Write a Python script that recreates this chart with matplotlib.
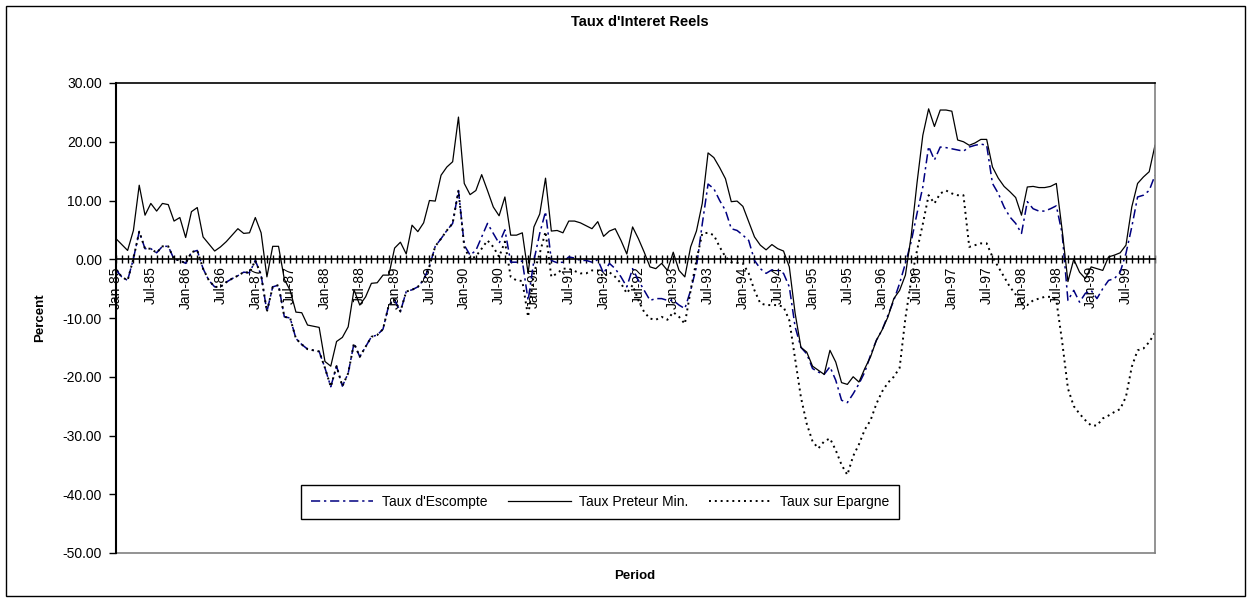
import matplotlib
matplotlib.use('Agg')
import matplotlib.pyplot as plt
import matplotlib.patches as mpatches
import pandas as pd

plt.rcParams['font.family'] = ['Liberation Sans', 'DejaVu Sans']

# monthly categories Jan-85 .. Dec-99
months = pd.date_range('1985-01-01', periods=180, freq='MS')
month_labels = [d.strftime('%b-%y') for d in months]

escompte = [
    -1.8, -3.0, -3.6, 0.1, 4.7, 1.8, 1.8, 1.1, 2.2, 2.2,
    0.0, -0.2, -0.7, 1.2, 1.5, -1.6, -3.6, -4.7, -4.7, -3.9,
    -3.3, -2.8, -2.2, -2.3, -0.2, -2.7, -8.9, -4.7, -4.4, -9.8,
    -10.0, -13.5, -14.5, -15.3, -15.5, -15.7, -18.5, -21.7, -18.2, -21.6,
    -19.4, -14.3, -16.6, -14.9, -13.2, -12.9, -11.9, -7.8, -6.9, -8.9,
    -5.5, -5.2, -4.7, -3.5, -1.2, 2.2, 3.5, 4.9, 6.1, 11.7,
    2.4, 0.7, 1.5, 3.8, 6.1, 4.4, 2.7, 5.0, -0.5, -0.5,
    -0.3, -7.0, -0.2, 4.4, 8.1, -0.2, -0.6, -0.5, 0.4, 0.2,
    -0.2, -0.2, -0.5, -0.1, -2.4, -0.7, -1.6, -3.0, -4.7, -1.6,
    -3.6, -5.3, -7.0, -6.7, -6.7, -7.0, -7.0, -7.8, -8.4, -5.3,
    -1.3, 6.0, 12.8, 12.0, 10.0, 8.3, 5.2, 4.9, 4.1, 3.2,
    -0.2, -1.6, -2.4, -1.8, -1.9, -2.4, -4.7, -11.5, -15.0, -16.1,
    -18.6, -19.2, -19.6, -18.3, -20.6, -24.0, -24.4, -22.9, -21.2, -19.2,
    -16.3, -13.8, -12.0, -9.5, -7.0, -4.1, -0.7, 3.0, 7.8, 12.3,
    19.2, 16.9, 19.1, 19.0, 18.8, 18.6, 18.4, 19.1, 19.4, 19.6,
    19.4, 12.9, 11.2, 8.9, 7.2, 6.1, 4.4, 9.8, 8.6, 8.2,
    8.2, 8.6, 9.1, 4.4, -7.0, -5.3, -7.3, -5.8, -5.3, -6.7,
    -5.0, -3.6, -3.3, -2.2, 1.0, 5.5, 10.6, 10.9, 11.7, 14.3,
]

preteur = [
    3.5, 2.5, 1.5, 4.9, 12.6, 7.5, 9.5, 8.2, 9.5, 9.3,
    6.5, 7.1, 3.7, 8.1, 8.8, 3.8, 2.6, 1.4, 2.1, 3.0,
    4.1, 5.2, 4.4, 4.5, 7.1, 4.5, -3.0, 2.2, 2.2, -3.4,
    -5.3, -9.0, -9.1, -11.2, -11.4, -11.6, -17.4, -18.2, -14.0, -13.3,
    -11.5, -5.2, -7.8, -6.4, -4.1, -4.0, -2.7, -2.7, 1.9, 2.9,
    0.9, 5.8, 4.7, 6.2, 10.0, 9.9, 14.3, 15.7, 16.6, 24.2,
    12.9, 11.0, 11.7, 14.4, 11.7, 8.9, 7.4, 10.6, 4.1, 4.1,
    4.5, -2.4, 5.5, 7.7, 13.8, 4.8, 4.9, 4.5, 6.5, 6.5,
    6.2, 5.7, 5.2, 6.4, 3.9, 4.8, 5.2, 3.2, 0.9, 5.5,
    3.5, 1.2, -1.3, -1.6, -0.7, -1.9, 1.2, -1.9, -3.0, 2.1,
    4.8, 9.5, 18.1, 17.3, 15.6, 13.7, 9.8, 9.9, 9.0, 6.4,
    3.8, 2.4, 1.6, 2.5, 1.8, 1.4, -1.3, -9.2, -15.0, -15.8,
    -18.2, -18.9, -19.6, -15.5, -17.5, -21.0, -21.3, -20.0, -20.9, -18.6,
    -16.6, -13.8, -12.0, -9.8, -6.7, -5.3, -2.7, 4.0, 13.0, 21.1,
    25.6, 22.6, 25.4, 25.4, 25.2, 20.3, 20.0, 19.4, 19.8, 20.4,
    20.4, 15.7, 13.8, 12.4, 11.5, 10.5, 7.5, 12.3, 12.4, 12.2,
    12.2, 12.4, 12.9, 5.0, -3.8, 0.0, -2.2, -3.3, -1.3, -1.6,
    -1.9, 0.4, 0.7, 1.1, 2.4, 8.9, 12.9, 14.0, 14.9, 19.4,
]

epargne = [
    -1.8, -3.0, -3.6, 0.1, 4.7, 1.8, 1.8, 1.1, 2.2, 2.2,
    0.0, -0.2, -0.7, 1.2, 1.5, -1.6, -3.6, -4.7, -4.7, -3.9,
    -3.3, -2.8, -2.2, -2.3, -0.2, -2.7, -8.9, -4.7, -4.4, -9.8,
    -10.0, -13.5, -14.5, -15.3, -15.5, -15.7, -18.5, -21.7, -18.2, -21.6,
    -19.4, -14.3, -16.6, -14.9, -13.2, -12.9, -11.9, -7.8, -6.9, -8.9,
    -5.5, -5.2, -4.7, -3.5, -1.2, 2.2, 3.5, 4.9, 6.1, 11.7,
    2.1, 0.0, 0.5, 1.8, 3.2, 2.1, 0.4, 3.0, -3.0, -3.6,
    -3.7, -9.8, -2.4, 1.0, 4.7, -3.0, -2.4, -1.6, -1.6, -2.0,
    -2.4, -2.4, -1.9, -1.9, -3.0, -2.2, -3.0, -4.1, -5.8, -4.4,
    -7.0, -9.0, -10.1, -10.3, -9.8, -10.3, -9.0, -9.8, -11.0, -5.3,
    -0.2, 4.4, 4.5, 4.1, 2.1, 0.4, -0.5, -0.6, -0.7, -2.4,
    -5.3, -7.5, -7.8, -7.8, -7.8, -8.1, -10.4, -17.0, -23.5, -28.0,
    -31.0, -32.2, -31.0, -30.5, -32.5, -35.0, -36.7, -33.5, -31.5, -29.0,
    -27.4, -24.6, -22.5, -21.0, -20.0, -18.5, -10.0, -3.5, 1.5, 6.0,
    10.9, 9.5, 11.2, 11.7, 11.2, 10.9, 10.9, 2.1, 2.4, 2.7,
    2.7, 0.4, -1.3, -3.0, -4.7, -6.0, -7.5, -7.8, -7.0, -6.7,
    -6.4, -6.4, -7.0, -14.0, -22.0, -25.0, -26.3, -27.4, -28.3, -28.3,
    -27.1, -26.6, -26.0, -25.5, -23.4, -18.3, -15.5, -15.2, -14.1, -12.5,
]

y_ticks = [-50, -40, -30, -20, -10, 0, 10, 20, 30]

W, H = 1251, 602
fig = plt.figure(figsize=(W / 100, H / 100), dpi=100)
ax = fig.add_axes([116 / W, 1 - 553 / H, (1155 - 116) / W, (553 - 83) / H])

x = list(range(len(months)))
ax.plot(x, escompte, color='#000080', lw=1.1, ls=(0, (6, 2.5, 1.5, 2.5)),
        label="Taux d'Escompte")
ax.plot(x, preteur, color='black', lw=0.9, label='Taux Preteur Min.')
ax.plot(x, epargne, color='black', lw=1.4, ls=(0, (1, 2)),
        label='Taux sur Epargne')

ax.set_xlim(0, len(x) - 1)
ax.set_ylim(-50, 30)

# category axis crosses at zero, ticks every month, labels every 6 months
ax.spines['bottom'].set_position(('data', 0))
ax.spines['bottom'].set_linewidth(1.2)
ax.set_xticks(x[::6])
ax.set_xticklabels(month_labels[::6], rotation=90, fontsize=10)
ax.set_xticks(x, minor=True)
ax.tick_params(axis='x', which='both', direction='inout', length=6, width=1, pad=2)

ax.set_yticks(y_ticks)
ax.set_yticklabels([f'{v:.2f}' for v in y_ticks], fontsize=10)
ax.tick_params(axis='y', direction='out', length=5, width=1, pad=5)

ax.spines['left'].set_linewidth(1.5)
ax.spines['top'].set_linewidth(1.2)
ax.spines['right'].set_color('#808080')
ax.spines['right'].set_linewidth(1.2)
ax.plot([0, 1], [0, 0], transform=ax.transAxes, color='#808080', lw=1.2,
        clip_on=False)

# chart area border
fig.add_artist(mpatches.Rectangle((6 / W, 6 / H), (1245 - 6) / W, (596 - 6) / H,
                                  transform=fig.transFigure, fill=False,
                                  ec='black', lw=1.0))

fig.text(640 / W, 1 - 22 / H, "Taux d'Interet Reels", ha='center', va='center',
         fontweight='bold', fontsize=10.5)
fig.text(40 / W, 1 - 318 / H, 'Percent', rotation=90, ha='center', va='center',
         fontweight='bold', fontsize=9.5)
fig.text(635 / W, 1 - 576 / H, 'Period', ha='center', va='center',
         fontweight='bold', fontsize=9.5)

leg = ax.legend(loc='center', bbox_to_anchor=(600 / W, 1 - 502 / H),
                bbox_transform=fig.transFigure, ncol=3, fancybox=False,
                edgecolor='black', framealpha=1, fontsize=10, handlelength=4.5,
                columnspacing=1.5, handletextpad=0.6, borderpad=0.7)
leg.get_frame().set_linewidth(1.0)

fig.savefig('out.png', dpi=100)
